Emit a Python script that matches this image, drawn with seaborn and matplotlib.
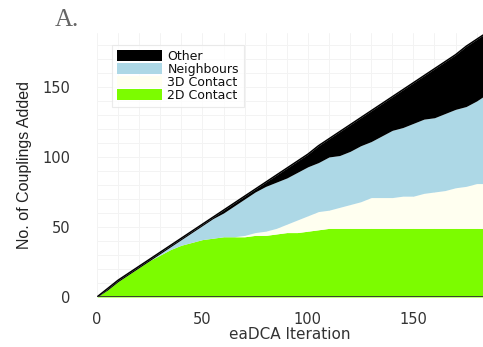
import numpy as np
import pandas as pd
import matplotlib
matplotlib.use("Agg")
import matplotlib.pyplot as plt
from matplotlib.font_manager import FontProperties
import seaborn as sns

# Data
iterations = [0, 5, 10, 15, 20, 25, 30, 35, 40, 45, 50, 55, 60, 65, 70, 75, 80, 85, 90,
              95, 100, 105, 110, 115, 120, 125, 130, 135, 140, 145, 150, 155, 160, 165,
              170, 175, 180, 183]
contact_2d = [0, 5, 11, 16, 21, 26, 30, 34, 37, 39, 41, 42, 43, 43, 43, 44, 44, 45, 46,
              46, 47, 48, 49, 49, 49, 49, 49, 49, 49, 49, 49, 49, 49, 49,
              49, 49, 49, 49]
contact_3d = [0, 0, 0, 0, 0, 0, 0, 0, 0, 0, 0, 0, 0, 0, 1, 2, 3, 4, 6,
              9, 11, 13, 13, 15, 17, 19, 22, 22, 22, 23, 23, 25, 26, 27,
              29, 30, 32, 32]
neighbours = [0, 0, 0, 0, 0, 0, 1, 2, 4, 7, 10, 14, 17, 22, 26, 29, 32, 33, 33,
              34, 35, 35, 38, 37, 38, 40, 40, 44, 48, 49, 52, 53, 53, 55,
              56, 57, 59, 62]
other = [0, 1, 1, 1, 1, 1, 1, 1, 1, 1, 1, 1, 2, 2, 2, 2, 3, 5, 7,
         8, 9, 12, 13, 17, 19, 20, 22, 23, 24, 27, 29, 31, 35, 37,
         39, 43, 44, 44]

categories = ["2D Contact", "3D Contact", "Neighbours", "Other"]
colors = ["#7CFC00", "#FFFFF0", "#ADD8E6", "#000000"]

df = pd.DataFrame({"iteration": iterations, "2D Contact": contact_2d,
                   "3D Contact": contact_3d, "Neighbours": neighbours, "Other": other})
df["total"] = df[categories].sum(axis=1)

sns.set_theme(style="white")
plt.rcParams["font.family"] = ["DejaVu Sans"]

fig = plt.figure(figsize=(4.83, 3.47), dpi=100)
ax = fig.add_axes([97 / 483, 1 - 297 / 347, 1 - 97 / 483, (297 - 33) / 347])

ax.stackplot(df["iteration"], *[df[c] for c in categories],
             colors=colors, labels=categories, linewidth=0, zorder=2)
sns.lineplot(data=df, x="iteration", y="total", color="black", lw=1.1,
             ax=ax, zorder=3, legend=False)
ax.axhline(0, color="#333333", lw=1.3, zorder=3)

ax.set_xlim(0, 183)
ax.set_ylim(0, 188.5)
ax.set_xticks([0, 50, 100, 150])
ax.set_yticks([0, 50, 100, 150])
ax.set_xticks(np.arange(0, 190, 10), minor=True)
ax.set_yticks(np.arange(0, 190, 10), minor=True)
ax.grid(True, which="both", color="#f3f3f3", lw=0.7, zorder=0)
ax.set_axisbelow(True)
for s in ax.spines.values():
    s.set_visible(False)
ax.tick_params(axis="both", which="both", length=0, labelsize=10.5, colors="#333333")
ax.tick_params(axis="x", pad=11)
ax.tick_params(axis="y", pad=19)

ax.set_xlabel("eaDCA Iteration", fontsize=11, color="#333333", labelpad=0)
ax.set_ylabel("No. of Couplings Added", color="#222222",
              fontproperties=FontProperties(family="Liberation Sans", size=11.5),
              labelpad=8)

handles, labels = ax.get_legend_handles_labels()
handles = [h for h, l in zip(handles, labels) if l in categories]
labels = [l for l in labels if l in categories]
leg = ax.legend(handles[::-1], labels[::-1], loc="upper left",
                bbox_to_anchor=(0.04, 0.955), borderaxespad=0, fontsize=9,
                labelspacing=0.0, handlelength=3.6, handleheight=0.9,
                handletextpad=0.4, borderpad=0.4, frameon=True, fancybox=False)
leg.get_frame().set_edgecolor("#e6e6e6")
leg.get_frame().set_linewidth(0.8)
for t in leg.get_texts():
    t.set_color("#111111")

fig.text(55 / 483, 1 - 9 / 347, "A.", color="#666666",
         fontproperties=FontProperties(family="Liberation Serif", size=18),
         ha="left", va="top")

fig.savefig("out.png", dpi=100)
